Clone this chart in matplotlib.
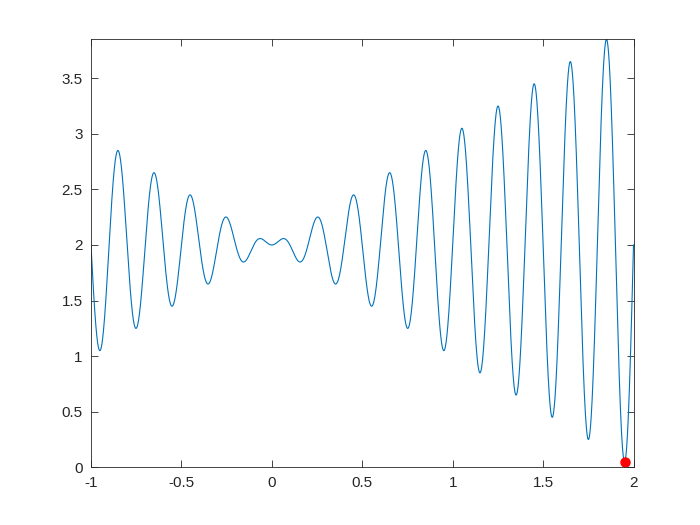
import numpy as np
import matplotlib.pyplot as plt

# plotted function: y = x * sin(FREQ * pi * x) + OFFSET on [X_MIN, X_MAX]
X_MIN, X_MAX = -1.0, 2.0
FREQ = 10
OFFSET = 2.0
N_SAMPLES = 3001

# best point marked in red
best_x = [1.9505]
best_y = [0.0497]

x_ticks = [-1, -0.5, 0, 0.5, 1, 1.5, 2]
x_tick_labels = ["-1", "-0.5", "0", "0.5", "1", "1.5", "2"]
y_ticks = [0, 0.5, 1, 1.5, 2, 2.5, 3, 3.5]
y_tick_labels = ["0", "0.5", "1", "1.5", "2", "2.5", "3", "3.5"]

x = np.linspace(X_MIN, X_MAX, N_SAMPLES)
y = x * np.sin(FREQ * np.pi * x) + OFFSET

plt.rcParams["font.family"] = ["Liberation Sans", "DejaVu Sans"]

fig = plt.figure(figsize=(7, 5.25), dpi=100)
ax = fig.add_axes([0.13, 0.11, 0.775, 0.815])

ax.plot(x, y, color="#0072BD", linewidth=0.8)
ax.plot(best_x, best_y, "o", color="#FF0000", markersize=6.5)

ax.set_xlim(X_MIN, X_MAX)
ax.set_ylim(0, y.max())
ax.set_xticks(x_ticks)
ax.set_xticklabels(x_tick_labels)
ax.set_yticks(y_ticks)
ax.set_yticklabels(y_tick_labels)

ax.tick_params(direction="in", top=True, right=True, length=5, width=0.6,
               labelsize=11, colors="#262626", pad=6)
for s in ax.spines.values():
    s.set_color("#262626")
    s.set_linewidth(0.6)

fig.savefig("out.png", dpi=100)
